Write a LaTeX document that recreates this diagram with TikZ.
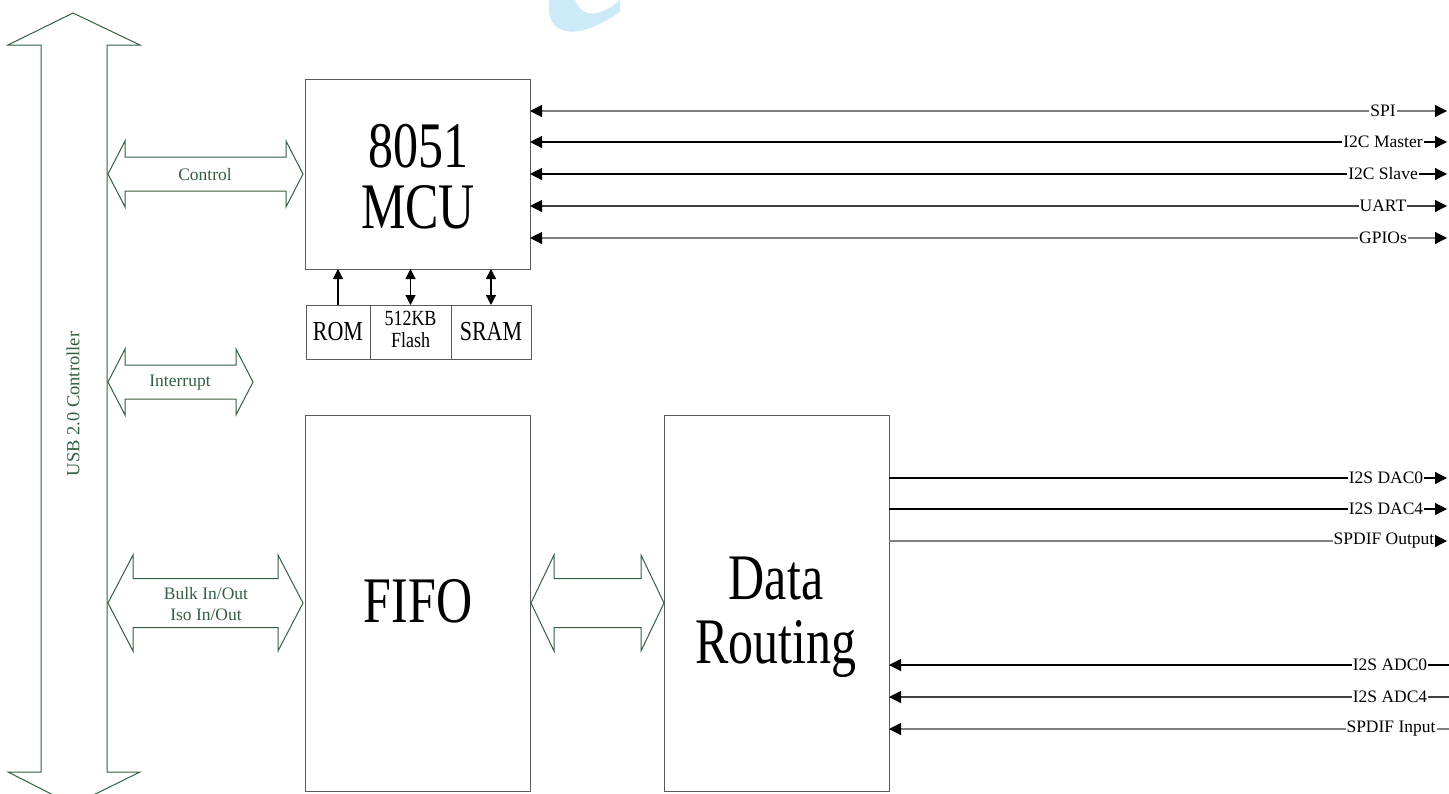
\documentclass[tikz,border=0pt]{standalone}
\usepackage{fontspec}
\setmainfont{Liberation Serif}
\usetikzlibrary{arrows.meta}
\definecolor{grn}{RGB}{50,95,65}
\definecolor{wm}{RGB}{205,234,248}
\definecolor{bx}{RGB}{90,90,90}
\newcommand{\dblarr}[6]{%
  \draw[garrow] (#1,#3) -- ({#1+#6},{#3-#5}) -- ({#1+#6},{#3-#4}) -- ({#2-#6},{#3-#4}) -- ({#2-#6},{#3-#5}) -- (#2,#3)
    -- ({#2-#6},{#3+#5}) -- ({#2-#6},{#3+#4}) -- ({#1+#6},{#3+#4}) -- ({#1+#6},{#3+#5}) -- cycle;}
\newcommand{\stretchtxt}[2]{\scalebox{1}[#1]{#2}}
\newcommand{\twolines}[3]{\stretchtxt{1.3}{\fontsize{50}{#3}\selectfont\begin{tabular}{@{}c@{}}#1\\#2\end{tabular}}}
\begin{document}
\begin{tikzpicture}[x=1pt,y=-1pt,
  box/.style={draw=bx,line width=1pt,inner sep=0pt,outer sep=0pt,anchor=north west},
  garrow/.style={draw=grn,line width=1pt},
  gtext/.style={text=grn,font=\fontsize{17.5}{21}\selectfont,inner sep=0pt},
  big/.style={inner sep=0pt},
  lbl/.style={fill=white,font=\fontsize{17.5}{17.5}\selectfont,inner xsep=1pt,inner ysep=0pt},
  sig/.style={line width=1.2pt},
  tip/.style={-{Triangle[length=12pt,width=12pt,color=black]}},
  tips/.style={{Triangle[length=12pt,width=12pt,color=black]}-{Triangle[length=12pt,width=12pt,color=black]}},
  mtip/.style={-{Triangle[length=10pt,width=10pt]}},
  mtips/.style={{Triangle[length=10pt,width=10pt]}-{Triangle[length=10pt,width=10pt]}}
]
\useasboundingbox (0,0) rectangle (1449,793);
\clip (0,0) rectangle (1449,793);
% watermark
\fill[wm] (549,0) -- (549,12) .. controls (552,34) and (576,42) .. (620,12) -- (620,0)
  .. controls (610,9) and (596,17) .. (585,12) .. controls (578,8) and (576,2) .. (575,0) -- cycle;
% USB vertical double arrow
\draw[garrow] (73,13) -- (140,45) -- (107,45) -- (107,772) -- (140,772) -- (73,805) -- (8,772) -- (41,772) -- (41,45) -- (8,45) -- cycle;
\node[gtext,rotate=90,font=\fontsize{18.5}{18.5}\selectfont] (usb) at (73,404) {USB 2.0 Controller};
% boxes
\node[box,minimum width=225,minimum height=190] (mcu) at (305,79) {};
\node[big] (tmcu) at (418,185) {\twolines{8051}{MCU}{46.2}};
\node[box,minimum width=64,minimum height=54] (rom) at (306,305) {\stretchtxt{1.25}{\fontsize{22}{22}\selectfont ROM}};
\node[box,minimum width=81,minimum height=54] (flash) at (370,305) {\stretchtxt{1.2}{\fontsize{18}{18.3}\selectfont\begin{tabular}{@{}c@{}}512KB\\Flash\end{tabular}}};
\node[box,minimum width=80,minimum height=54] (sram) at (451,305) {\stretchtxt{1.25}{\fontsize{22}{22}\selectfont SRAM}};
\node[box,minimum width=225,minimum height=376] (fifo) at (305,415) {};
\node[big] (tfifo) at (418,601) {\stretchtxt{1.3}{\fontsize{50}{50}\selectfont FIFO}};
\node[box,minimum width=225,minimum height=376] (dr) at (664,415) {};
\node[big] (tdr) at (776,619) {\twolines{Data}{Routing}{49.2}};
% memory arrows
\draw[sig,mtip] (rom.north) -- (rom.north |- mcu.south);
\draw[sig,mtips] (flash.north) -- (flash.north |- mcu.south);
\draw[sig,mtips] (sram.north) -- (sram.north |- mcu.south);
% green double arrows
\dblarr{108}{303}{174}{17}{33}{17}
\node[gtext] (tctrl) at (205,175) {Control};
\dblarr{108}{253}{382}{17}{33}{17}
\node[gtext] (tint) at (180,383) {Interrupt};
\dblarr{108}{303}{603}{24.5}{48}{25}
\node[gtext,align=center] (tbulk) at (206,604) {Bulk In/Out\\Iso In/Out};
\dblarr{531}{664}{603}{24.5}{48}{23}
% MCU peripheral lines
\coordinate (spiR) at (1447,111);
\coordinate (i2cmR) at (1447,142);
\coordinate (i2csR) at (1447,174);
\coordinate (uartR) at (1447,206);
\coordinate (gpioR) at (1447,238);
\draw[sig,tips,draw=gray] (mcu.east |- spiR) -- (spiR);
\draw[sig,tips] (mcu.east |- i2cmR) -- (i2cmR);
\draw[sig,tips] (mcu.east |- i2csR) -- (i2csR);
\draw[sig,tips,draw=darkgray] (mcu.east |- uartR) -- (uartR);
\draw[sig,tips,draw=gray] (mcu.east |- gpioR) -- (gpioR);
\node[lbl] (lspi) at (1383,111) {SPI};
\node[lbl] (li2cm) at (1383,142) {I2C Master};
\node[lbl] (li2cs) at (1383,174) {I2C Slave};
\node[lbl] (luart) at (1383,206) {UART};
\node[lbl] (lgpio) at (1383,238) {GPIOs};
% data routing outputs
\coordinate (dac0R) at (1447,478);
\coordinate (dac4R) at (1447,509);
\coordinate (spdoR) at (1447,541);
\draw[sig,tip] (dr.east |- dac0R) -- (dac0R);
\draw[sig,tip] (dr.east |- dac4R) -- (dac4R);
\draw[sig,tip,draw=gray] (dr.east |- spdoR) -- (spdoR);
\node[lbl] (ldac0) at (1386,478) {I2S DAC0};
\node[lbl] (ldac4) at (1386,509) {I2S DAC4};
\node[lbl] (lspdo) at (1384,541) {SPDIF Output};
% data routing inputs
\coordinate (adc0R) at (1449,665);
\coordinate (adc4R) at (1449,697);
\coordinate (spdiR) at (1449,729);
\draw[sig,tip] (adc0R) -- (dr.east |- adc0R);
\draw[sig,tip,draw=darkgray] (adc4R) -- (dr.east |- adc4R);
\draw[sig,tip,draw=gray] (spdiR) -- (dr.east |- spdiR);
\node[lbl] (ladc0) at (1390,665) {I2S ADC0};
\node[lbl] (ladc4) at (1390,697) {I2S ADC4};
\node[lbl] (lspdi) at (1391,729) {SPDIF Input};
\end{tikzpicture}
\end{document}
